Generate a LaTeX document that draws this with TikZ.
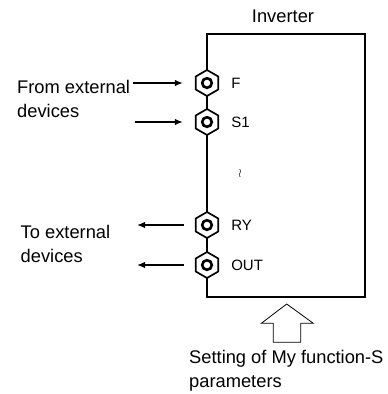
\documentclass[tikz,border=0pt]{standalone}
\usepackage{fontspec}
\setmainfont{Liberation Sans}
\usetikzlibrary{positioning, arrows.meta, shapes.geometric}

\begin{document}
\begin{tikzpicture}[
        x=1pt, y=1pt,
        box/.style={rectangle, draw, line width=1.6pt, minimum width=158pt, minimum height=263pt, inner sep=0pt},
        term/.style={regular polygon, regular polygon sides=6, shape border rotate=30, draw, fill=white, line width=1.7pt, minimum size=26pt, inner sep=0pt},
        ring/.style={line width=2.6pt},
        lbl/.style={font=\fontsize{18.3}{24}\selectfont, align=left, inner sep=0pt},
        tlbl/.style={font=\fontsize{15}{15}\selectfont, inner sep=0pt},
        arr/.style={-{Latex[length=8pt, width=6.5pt]}, line width=1.4pt},
        hollow/.style={line width=0.8pt, fill=white}
    ]
        \useasboundingbox (0,0) rectangle (388,-394);

        \node[box] (inv) at (286,-165.5) {};
        \node[lbl, above=10pt of inv, xshift=-3pt] (title) {Inverter};

        % terminals on the left side of the inverter
        \foreach \n/\y in {F/83, S1/122, RY/225, OUT/265} {
            \node[term] (t\n) at (207,-\y) {};
            \draw[ring] (t\n.center) circle (4.8);
            \node[tlbl, right=12pt of t\n] (l\n) {\n};
        }

        \node[font=\fontsize{12}{12}\selectfont, inner sep=0pt] (gap) at (240,-173) {$\wr$};

        \node[lbl, anchor=west] (from) at (17,-99) {From external\\devices};
        \node[lbl, anchor=west] (to) at (20.5,-244) {To external\\devices};
        \node[lbl, anchor=west] (set) at (189,-371) {Setting of My function-S\\parameters};

        \coordinate (inF) at (133,-83);
        \coordinate (inS1) at (135,-122);
        \coordinate (outRY) at (137,-225);
        \coordinate (outOUT) at (137,-265);

        \draw[arr, shorten >=12pt] (inF) -- (tF);
        \draw[arr, shorten >=12pt] (inS1) -- (tS1);
        \draw[arr, shorten <=11pt] (tRY) -- (outRY);
        \draw[arr, shorten <=11pt] (tOUT) -- (outOUT);

        % hollow arrow for the parameter setting
        \coordinate (tip) at (286.7,-304);
        \draw[hollow] (tip) -- ++(26.6,-19.3) -- ++(-12.6,0) -- ++(0,-19) -- ++(-27.4,0)
            -- ++(0,19) -- ++(-12,0) -- cycle;
    \end{tikzpicture}
\end{document}
